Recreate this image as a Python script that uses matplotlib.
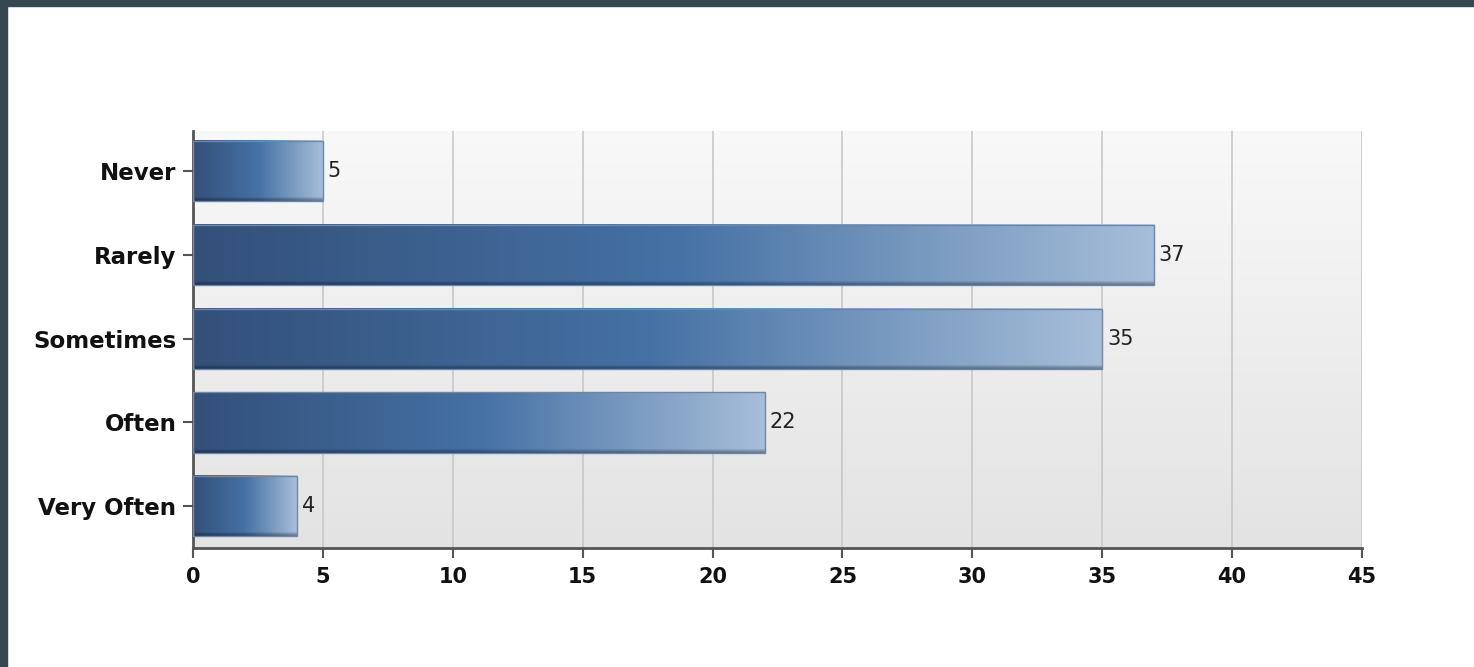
import matplotlib
matplotlib.use('Agg')
import matplotlib.pyplot as plt
import numpy as np
from matplotlib.colors import LinearSegmentedColormap, to_rgb
from matplotlib.patches import Rectangle

# survey answers, top to bottom
categories = ['Never', 'Rarely', 'Sometimes', 'Often', 'Very Often']
counts = [5, 37, 35, 22, 4]
x_ticks = [0, 5, 10, 15, 20, 25, 30, 35, 40, 45]

W, H = 1474, 667
fig = plt.figure(figsize=(W / 100, H / 100), dpi=100)
fig.patch.set_facecolor('white')

# dark frame strips on the top and left edge
fig.patches.append(Rectangle((0, 1 - 6 / H), 1, 6 / H, transform=fig.transFigure,
                             color='#37474f', zorder=10))
fig.patches.append(Rectangle((0, 0), 7 / W, 1, transform=fig.transFigure,
                             color='#37474f', zorder=10))

ax = fig.add_axes([193 / W, 119 / H, 1169 / W, 417 / H])

# soft vertical gradient behind the plot
bg = np.linspace(0.975, 0.89, 100).reshape(-1, 1)
ax.imshow(np.dstack([bg, bg, bg]), extent=[0, 1, 0, 1], transform=ax.transAxes,
          aspect='auto', zorder=-1)

bar_cmap = LinearSegmentedColormap.from_list(
    'bar', [(0, '#33507a'), (0.5, '#4571a4'), (1, '#a7bed9')])

bar_h = 0.72
cols = np.linspace(0, 1, 256)
rgb = bar_cmap(cols)[:, :3]
rows = 60
shade = np.ones(rows)
shade[0] = 1.12
shade[-4:] = [0.92, 0.82, 0.72, 0.65]
for i, v in enumerate(counts):
    img = rgb[None, :, :] * shade[:, None, None]
    img = np.clip(img, 0, 1)
    ax.imshow(img, extent=[0, v, i + bar_h / 2, i - bar_h / 2],
              aspect='auto', zorder=2, interpolation='bilinear')
    ax.add_patch(Rectangle((0, i - bar_h / 2), v, bar_h, fill=False,
                           edgecolor='#6f86a6', lw=1, zorder=3))
    ax.text(v + 0.18, i, str(v), va='center', ha='left', fontsize=15,
            color='#222222', zorder=4)

ax.set_xlim(0, 45)
ax.set_ylim(4.5, -0.48)
ax.set_xticks(x_ticks)
ax.set_yticks(range(len(categories)))
ax.set_yticklabels(categories)
ax.grid(axis='x', color='#c8c8c8', lw=1.2)
ax.set_axisbelow(True)

for side in ['top', 'right']:
    ax.spines[side].set_visible(False)
for side in ['left', 'bottom']:
    ax.spines[side].set_color('#555555')
    ax.spines[side].set_linewidth(2)

ax.tick_params(axis='x', length=7, width=1.5, color='#555555', labelsize=15, pad=7)
ax.tick_params(axis='y', length=7, width=1.5, color='#555555', labelsize=16.5, pad=5)
for lab in ax.get_xticklabels() + ax.get_yticklabels():
    lab.set_fontweight('bold')
    lab.set_color('#111111')

fig.savefig('out.png', dpi=100)
